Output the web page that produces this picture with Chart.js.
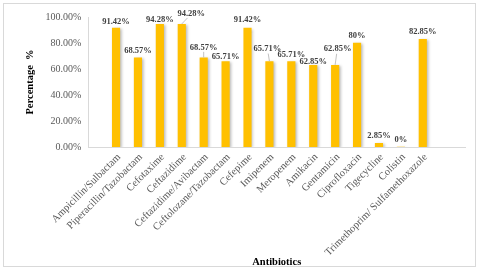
<!DOCTYPE html>
<html>
<head>
<meta charset="utf-8">
<script src="https://cdn.jsdelivr.net/npm/chart.js@4/dist/chart.umd.min.js"></script>
<style>
    html, body { margin: 0; padding: 0; background: #fff; }
    #frame {
        position: absolute; left: 3px; top: 3px;
        width: 473px; height: 264px;
        box-sizing: border-box; border: 1px solid #d9d9d9;
    }
    #frame canvas { display: block; }
</style>
</head>
<body>
<div id="frame"><canvas id="bar-chart" width="471" height="262"></canvas></div>
<script>
var categories = [
    'Ampicillin/Sulbactam', 'Piperacillin/Tazobactam', 'Cefotaxime', 'Ceftazidime',
    'Ceftazidime/Avibactam', 'Ceftolozane/Tazobactam', 'Cefepime', 'Imipenem',
    'Meropenem', 'Amikacin', 'Gentamicin', 'Ciprofloxacin', 'Tigecycline',
    'Colistin', 'Trimethoprim/ Sulfamethoxazole'
];
var percentages = [91.42, 68.57, 94.28, 94.28, 68.57, 65.71, 91.42, 65.71, 65.71, 62.85, 62.85, 80, 2.85, 0, 82.85];
var valueLabels = ['91.42%', '68.57%', '94.28%', '94.28%', '68.57%', '65.71%', '91.42%', '65.71%', '65.71%', '62.85%', '62.85%', '80%', '2.85%', '0%', '82.85%'];
var yTicks = [0, 10, 20, 30, 40, 50, 60, 70, 80, 90, 100];

// nudges for the data labels (px), a few of them are pulled out with a leader line
var labelShift = [[0, 1], [0, 0], [0, 2], [9.5, -4], [0, -3.5], [0, 2], [0, -1], [-2, -5.5],
    [0, 0], [0, 3.5], [2.5, -9], [0, 0], [0, 0], [0, 0], [0, 0]];

var serif = '"Liberation Serif", "Times New Roman", serif';

var valueLabelPlugin = {
    id: 'valueLabels',
    beforeDatasetsDraw: function(chart) {
        var ctx = chart.ctx;
        ctx.save();
        ctx.shadowColor = 'rgba(0,0,0,0.28)';
        ctx.shadowBlur = 3;
        ctx.shadowOffsetX = 1.5;
        ctx.shadowOffsetY = 1;
    },
    afterDatasetsDraw: function(chart) {
        var ctx = chart.ctx;
        ctx.restore();
        var bars = chart.getDatasetMeta(0).data;
        ctx.save();
        ctx.font = 'bold 8.5px ' + serif;
        ctx.fillStyle = '#404040';
        ctx.textAlign = 'center';
        ctx.textBaseline = 'middle';
        bars.forEach(function(bar, i) {
            var dx = labelShift[i][0], dy = labelShift[i][1];
            var lx = bar.x + dx, ly = bar.y - 7 + dy;
            if (dy < -3) {
                ctx.strokeStyle = '#a6a6a6';
                ctx.lineWidth = 0.7;
                ctx.beginPath();
                ctx.moveTo(bar.x, bar.y - 0.5);
                ctx.lineTo(lx - dx * 0.4, ly + 4.5);
                ctx.stroke();
            }
            ctx.fillText(valueLabels[i], lx, ly);
        });
        ctx.restore();
    }
};

new Chart(document.getElementById('bar-chart'), {
    type: 'bar',
    data: {
        datasets: [{
            data: percentages.map(function(v, i) { return { x: i, y: v }; }),
            backgroundColor: '#ffc000',
            barThickness: 7.5,
        }]
    },
    plugins: [valueLabelPlugin],
    options: {
        responsive: false,
        animation: false,
        layout: { padding: { left: 10, top: 13, right: 10, bottom: 0 } },
        plugins: {
            legend: { display: false },
            tooltip: { enabled: false },
        },
        scales: {
            x: {
                type: 'linear',
                min: -0.6875,
                max: 15.354,
                afterBuildTicks: function(scale) {
                    scale.ticks = categories.map(function(c, i) { return { value: i }; });
                },
                afterFit: function(scale) {
                    scale.height = 119;
                },
                grid: { display: false, drawTicks: false },
                border: { display: true, color: '#d9d9d9' },
                ticks: {
                    autoSkip: false,
                    minRotation: 45,
                    maxRotation: 45,
                    padding: 4,
                    labelOffset: 3,
                    color: '#595959',
                    font: { family: serif, size: 10.5 },
                    callback: function(value) { return categories[value]; }
                },
                title: {
                    display: true,
                    text: 'Antibiotics',
                    color: '#000',
                    padding: { top: 0, bottom: -2 },
                    font: { family: serif, size: 10.5, weight: 'bold', lineHeight: 1 }
                }
            },
            y: {
                min: 0,
                max: 100,
                afterBuildTicks: function(scale) {
                    scale.ticks = yTicks.map(function(v) { return { value: v }; });
                },
                grid: { display: false, drawTicks: false },
                border: { display: true, color: '#d9d9d9' },
                ticks: {
                    padding: 7,
                    color: '#595959',
                    font: { family: serif, size: 10 },
                    callback: function(value) { return value.toFixed(2) + '%'; }
                },
                title: {
                    display: true,
                    text: 'Percentage  %',
                    color: '#000',
                    padding: { top: 10, bottom: 2 },
                    font: { family: serif, size: 10.5, weight: 'bold' }
                }
            }
        }
    }
});
</script>
</body>
</html>
